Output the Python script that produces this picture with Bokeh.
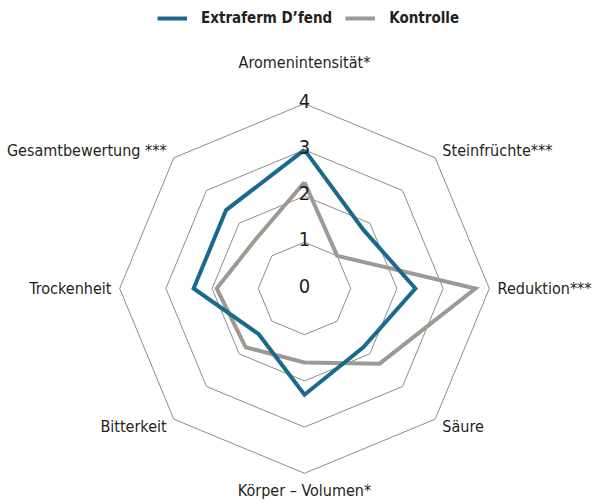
import numpy as np
from bokeh.plotting import figure
from bokeh.models import ColumnDataSource, Legend, LegendItem, Range1d
from bokeh.embed import file_html
from bokeh.resources import INLINE
from bokeh.core.properties import value

categories = ["Aromenintensität*", "Steinfrüchte***", "Reduktion***", "Säure",
              "Körper – Volumen*", "Bitterkeit", "Trockenheit", "Gesamtbewertung ***"]
extraferm = [3.0, 1.8, 2.4, 1.8, 2.3, 1.4, 2.4, 2.4]
kontrolle = [2.3, 1.0, 3.7, 2.3, 1.6, 1.8, 1.9, 1.5]
series_names = ["Extraferm D’fend", "Kontrolle"]
ring_values = [1, 2, 3, 4]
tick_values = [0, 1, 2, 3, 4]
tick_labels = ["0", "1", "2", "3", "4"]

FONT = "'DejaVu Sans Condensed', 'Liberation Sans Narrow', sans-serif"
BLUE = "#1b6a8d"
GRAY = "#9f9993"
RING = "#8c8c8c"
TEXT = "#231f20"

W, H = 598, 504
cx, cy = 304, 288
unit = 46.2

n = len(categories)
theta = np.pi / 2 - np.arange(n) * 2 * np.pi / n
cos_t, sin_t = np.cos(theta), np.sin(theta)

p = figure(width=W, height=H, output_backend="svg", toolbar_location=None,
           x_axis_type=None, y_axis_type=None, min_border=0,
           x_range=Range1d(-cx / unit, (W - cx) / unit),
           y_range=Range1d(-(H - cy) / unit, cy / unit))
p.grid.visible = False
p.outline_line_color = None
p.background_fill_color = "white"
p.border_fill_color = "white"

# rings
ring_xs = [list(np.append(r * cos_t, r * cos_t[0])) for r in ring_values]
ring_ys = [list(np.append(r * sin_t, r * sin_t[0])) for r in ring_values]
p.multi_line(xs=ring_xs, ys=ring_ys, line_color=RING, line_width=1)

def closed(vals):
    v = np.array(vals, dtype=float)
    xs = np.append(v * cos_t, v[0] * cos_t[0])
    ys = np.append(v * sin_t, v[0] * sin_t[0])
    return xs, ys

kx, ky = closed(kontrolle)
r_k = p.line(kx, ky, line_color=GRAY, line_width=4, line_join="miter")
ex, ey = closed(extraferm)
r_e = p.line(ex, ey, line_color=BLUE, line_width=4, line_join="miter")

# tick labels along vertical axis
p.text(x=[0] * len(tick_values), y=tick_values, text=tick_labels,
       text_font=value(FONT), text_font_size="20px", text_color=TEXT,
       text_align="center", text_baseline="alphabetic", y_offset=-3)

# category labels
aligns = []
for i in range(n):
    c = cos_t[i]
    if abs(c) < 1e-6:
        aligns.append("center")
    elif c > 0:
        aligns.append("left")
    else:
        aligns.append("right")
radii = [4.9, 4.22, 4.18, 4.22, 4.38, 4.22, 4.18, 4.22]
src = ColumnDataSource(dict(x=[r * c for r, c in zip(radii, cos_t)],
                            y=[r * s for r, s in zip(radii, sin_t)],
                            text=categories, align=aligns))
p.text(x="x", y="y", text="text", text_align="align", source=src,
       text_font=value(FONT), text_font_size="16px", text_color=TEXT,
       text_baseline="middle")

legend = Legend(items=[LegendItem(label=series_names[0], renderers=[r_e]),
                       LegendItem(label=series_names[1], renderers=[r_k])],
                orientation="horizontal", location=(157, H - 8 - 20),
                glyph_width=30, glyph_height=20, label_standoff=14, spacing=13,
                padding=0, margin=0, border_line_color=None,
                background_fill_alpha=0,
                label_text_font=FONT, label_text_font_style="bold",
                label_text_font_size="15px", label_text_color=TEXT)
p.add_layout(legend, "center")

open("out.html", "w").write(file_html(p, INLINE))
